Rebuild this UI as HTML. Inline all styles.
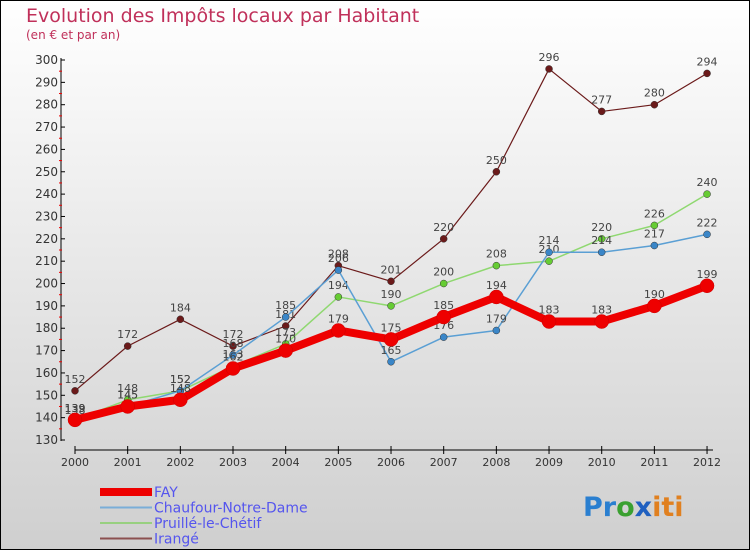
<!DOCTYPE html>
<html><head><meta charset="utf-8"><style>
body{margin:0}
svg{display:block;font-family:"DejaVu Sans","Liberation Sans",sans-serif}
</style></head><body>
<svg id="c" width="750" height="550">
<defs><linearGradient id="bg" x1="0" y1="0" x2="0" y2="1"><stop offset="0" stop-color="#ffffff"/><stop offset="1" stop-color="#cfcfcf"/></linearGradient></defs>
<rect x="0.5" y="0.5" width="749" height="549" fill="url(#bg)" stroke="#000"/>
<text x="26" y="22" font-size="19" fill="#c0305a">Evolution des Impôts locaux par Habitant</text>
<text x="26" y="39" font-size="12" fill="#c0305a">(en € et par an)</text>
<g id="axes"></g><g id="series"></g><g id="legend"></g>
<text x="583" y="516" font-size="27" font-weight="bold"><tspan fill="#2a7fd0">Pr</tspan><tspan fill="#3aa030">o</tspan><tspan fill="#2060c0">x</tspan><tspan fill="#e08020">iti</tspan></text>
</svg>
<script>
const years=[2000,2001,2002,2003,2004,2005,2006,2007,2008,2009,2010,2011,2012];
const yTicks=[130,140,150,160,170,180,190,200,210,220,230,240,250,260,270,280,290,300];
const seriesNames=["FAY","Chaufour-Notre-Dame","Pruillé-le-Chétif","Irangé"];
const fay=[139,145,148,162,170,179,175,185,194,183,183,190,199];
const chaufour=[138,145,152,168,185,206,165,176,179,214,214,217,222];
const pruille=[139,148,152,163,173,194,190,200,208,210,220,226,240];
const irange=[152,172,184,172,181,208,201,220,250,296,277,280,294];
const NS="http://www.w3.org/2000/svg";
const x=i=>75+i*52.67;
const y=v=>60+(300-v)*(380/170);
function mk(p,t,a){const e=document.createElementNS(NS,t);for(const k in a)e.setAttribute(k,a[k]);p.appendChild(e);return e;}
const ax=document.getElementById('axes');
let l=mk(ax,'line',{x1:61,y1:58,x2:61,y2:441,stroke:'#000'});


yTicks.forEach(v=>{
 mk(ax,'line',{x1:61,y1:y(v),x2:65,y2:y(v),stroke:'#000'});
 if(v<300)mk(ax,'line',{x1:59,y1:y(v+5),x2:62,y2:y(v+5),stroke:'#e00'});
 const t=mk(ax,'text',{x:58,y:y(v)+4,'font-size':12,'text-anchor':'end',fill:'#333'});t.textContent=v;
 
 
});
l=mk(ax,'line',{x1:75,y1:450,x2:713,y2:450,stroke:'#000'});


years.forEach((yr,i)=>{
 mk(ax,'line',{x1:x(i),y1:446,x2:x(i),y2:454,stroke:'#000'});
 const t=mk(ax,'text',{x:x(i),y:466,'font-size':11,'text-anchor':'middle',fill:'#333'});t.textContent=yr;
 
 
});
const sg=document.getElementById('series');
const defs=[[irange,'#6b1a1a','#6b1a1a',1.2,3.5],[pruille,'#8fd870','#66cc33',1.5,3.5],[chaufour,'#5a9fd4','#3a86c8',1.5,3.5],[fay,'#ee0000','#ee0000',8,7]];
const names=['irange','pruille','chaufour','fay'];
defs.forEach((d,si)=>{
 const [vals,lc,fc,w,r]=d;
 const pl=mk(sg,'polyline',{points:vals.map((v,i)=>x(i)+','+y(v)).join(' '),fill:'none',stroke:lc,'stroke-width':w,'stroke-linejoin':'round'});
 
 
 vals.forEach((v,i)=>{
  const c=mk(sg,'circle',{cx:x(i),cy:y(v),r:r,fill:fc,stroke:si==3?'#c00':'#333','stroke-width':0.5});
  
  
  const t=mk(sg,'text',{x:x(i),y:y(v)-8,'font-size':11,'text-anchor':'middle',fill:'#444'});t.textContent=v;
  
  
 });
});
const lg=document.getElementById('legend');
const lcols=['#ee0000','#7aaed8','#98d080','#8b5050'];const lw=[8,2,2,2];
seriesNames.forEach((n,i)=>{
 const yy=492+i*15.5;
 const ln=mk(lg,'line',{x1:100,y1:yy,x2:152,y2:yy,stroke:lcols[i],'stroke-width':lw[i]});
 
 
 const t=mk(lg,'text',{x:154,y:yy+5,'font-size':14,fill:'#5555ee'});t.textContent=n;
 
 
});
</script>
</body></html>
